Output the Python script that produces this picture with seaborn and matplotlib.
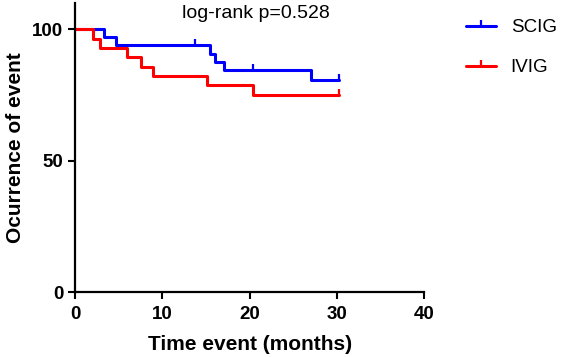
import numpy as np
import pandas as pd
import matplotlib
matplotlib.use('Agg')
import matplotlib.pyplot as plt
from matplotlib.path import Path
from matplotlib.lines import Line2D
import seaborn as sb

# Kaplan-Meier step values
scig_time = [0, 3.3, 4.7, 15.5, 16.0, 17.1, 27.0, 30.2]
scig_surv = [100, 96.9, 93.8, 90.6, 87.5, 84.4, 80.6, 80.6]
scig_cens_time = [13.7, 20.4, 30.2]
scig_cens_surv = [93.8, 84.4, 80.6]

ivig_time = [0, 2.0, 2.9, 5.9, 7.6, 8.9, 15.1, 20.4, 30.2]
ivig_surv = [100, 96.4, 92.9, 89.3, 85.7, 82.1, 78.6, 75.0, 75.0]
ivig_cens_time = [30.2]
ivig_cens_surv = [75.0]

groups = ['SCIG', 'IVIG']
colors = {'SCIG': '#0000FF', 'IVIG': '#FF0000'}
x_ticks = [0, 10, 20, 30, 40]
y_ticks = [0, 50, 100]

if __name__ == '__main__':
    sb.set_style('ticks')
    plt.rcParams['font.family'] = ['Liberation Sans', 'DejaVu Sans']
    for k in ['text.color', 'axes.labelcolor', 'xtick.color', 'ytick.color', 'axes.edgecolor']:
        plt.rcParams[k] = 'black'

    df = pd.concat([
        pd.DataFrame({'time': scig_time, 'surv': scig_surv, 'group': 'SCIG'}),
        pd.DataFrame({'time': ivig_time, 'surv': ivig_surv, 'group': 'IVIG'}),
    ])

    fig = plt.figure(figsize=(5.61, 3.57), dpi=100)
    ax = fig.add_axes([0.134, 0.182, 0.622, 0.81])

    sb.lineplot(data=df, x='time', y='surv', hue='group', palette=colors,
                drawstyle='steps-post', estimator=None, sort=True,
                linewidth=2.2, legend=False, ax=ax)

    # censor ticks pointing up from the line
    tick = Path([(0, 0), (0, 1)], [Path.MOVETO, Path.LINETO])
    ax.plot(scig_cens_time, scig_cens_surv, ls='none', marker=tick, ms=9,
            mec=colors['SCIG'], mew=1.6)
    ax.plot(ivig_cens_time, ivig_cens_surv, ls='none', marker=tick, ms=9,
            mec=colors['IVIG'], mew=1.6)

    ax.set_xlim(0, 40)
    ax.set_ylim(0, 110)
    ax.set_xticks(x_ticks)
    ax.set_yticks(y_ticks)
    ax.tick_params(width=1.5, length=5, labelsize=13.5)
    ax.tick_params(axis='x', pad=5)
    for lab in ax.get_xticklabels() + ax.get_yticklabels():
        lab.set_fontweight('bold')
    for s in ['left', 'bottom']:
        ax.spines[s].set_linewidth(1.6)
    sb.despine(ax=ax)

    ax.set_xlabel('Time event (months)', fontsize=15, fontweight='bold', labelpad=9)
    ax.set_ylabel('Ocurrence of event', fontsize=15, fontweight='bold', labelpad=5)

    ax.text(20.7, 106, 'log-rank p=0.528', ha='center', va='center', fontsize=14)

    handles = [Line2D([], [], color=colors[g], lw=2.2, marker=tick, ms=9,
                      mec=colors[g], mew=1.6) for g in groups]
    fig.legend(handles, groups, loc='upper left', bbox_to_anchor=(0.80, 0.993),
               frameon=False, fontsize=13.5, handlelength=1.6,
               handletextpad=0.8, labelspacing=1.2)

    fig.savefig('out.png', dpi=100)
